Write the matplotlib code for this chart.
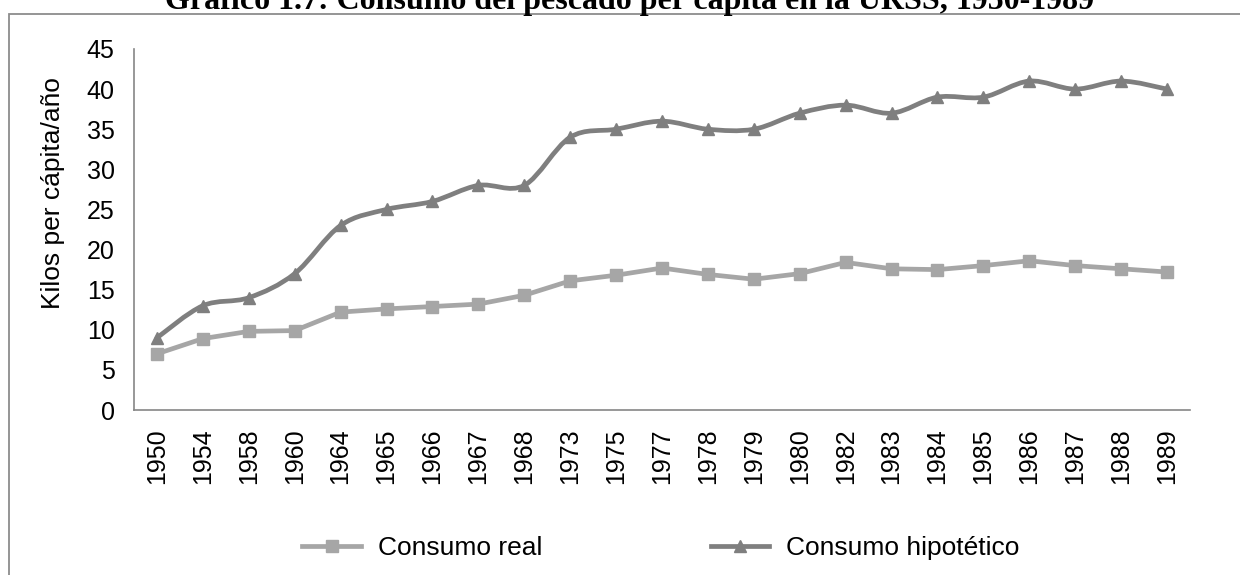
import matplotlib
matplotlib.use("Agg")
import matplotlib.pyplot as plt
from matplotlib.path import Path
from matplotlib.patches import PathPatch, Rectangle
from matplotlib.lines import Line2D

# Data
years = ["1950", "1954", "1958", "1960", "1964", "1965", "1966", "1967", "1968",
         "1973", "1975", "1977", "1978", "1979", "1980", "1982", "1983", "1984",
         "1985", "1986", "1987", "1988", "1989"]
consumo_real = [7.0, 8.9, 9.8, 9.9, 12.2, 12.6, 12.9, 13.2, 14.3, 16.1, 16.8, 17.7,
                16.9, 16.3, 17.0, 18.4, 17.6, 17.5, 18.0, 18.6, 18.0, 17.6, 17.2]
consumo_hipotetico = [9, 13, 14, 17, 23, 25, 26, 28, 28, 34, 35, 36, 35, 35, 37, 38,
                      37, 39, 39, 41, 40, 41, 40]

REAL_COLOUR = "#a6a6a6"
HIPO_COLOUR = "#7f7f7f"
FONT = "Liberation Sans"
W, H = 1240, 575


# Smooth curve through the points, like Excel's "smoothed line"
def smooth_path(xs, ys):
    pts = list(zip(xs, ys))
    verts = [pts[0]]
    codes = [Path.MOVETO]
    n = len(pts)
    for i in range(n - 1):
        p0 = pts[i - 1] if i > 0 else pts[i]
        p1 = pts[i]
        p2 = pts[i + 1]
        p3 = pts[i + 2] if i + 2 < n else pts[i + 1]
        c1 = (p1[0] + (p2[0] - p0[0]) / 6, p1[1] + (p2[1] - p0[1]) / 6)
        c2 = (p2[0] - (p3[0] - p1[0]) / 6, p2[1] - (p3[1] - p1[1]) / 6)
        verts += [c1, c2, p2]
        codes += [Path.CURVE4] * 3
    return Path(verts, codes)


fig = plt.figure(figsize=(W / 100, H / 100), dpi=100)
ax = fig.add_axes([134 / W, 1 - 410 / H, (1190 - 134) / W, (410 - 49) / H])

x = list(range(len(years)))

# Consumo real: straight segments with square markers
ax.plot(x, consumo_real, color=REAL_COLOUR, lw=3.4, marker="s", ms=8.5,
        solid_joinstyle="round", solid_capstyle="round", zorder=3)

# Consumo hipotético: smoothed line with triangle markers
ax.add_patch(PathPatch(smooth_path(x, consumo_hipotetico), fill=False,
                       edgecolor=HIPO_COLOUR, lw=3.4, capstyle="round", zorder=4))
ax.plot(x, consumo_hipotetico, color=HIPO_COLOUR, ls="none", marker="^", ms=9, zorder=5)

ax.set_xlim(-0.5, len(years) - 0.5)
ax.set_ylim(0, 45)
ax.set_yticks(range(0, 46, 5))
ax.set_xticks(x)
ax.set_xticklabels(years, rotation=90, fontsize=18, family=FONT)
for lbl in ax.get_yticklabels():
    lbl.set_fontsize(18)
    lbl.set_family(FONT)
ax.tick_params(axis="both", length=0)
ax.tick_params(axis="y", pad=14)
ax.tick_params(axis="x", pad=13)

for side in ["top", "right"]:
    ax.spines[side].set_visible(False)
for side in ["left", "bottom"]:
    ax.spines[side].set_color("#868686")
    ax.spines[side].set_linewidth(1.2)

ax.set_ylabel("Kilos per cápita/año", fontsize=19, family=FONT)
ax.yaxis.set_label_coords((65 - 134) / 1056, 0.6)

# Legend below the chart
handles = [
    Line2D([], [], color=REAL_COLOUR, lw=3.4, marker="s", ms=8.5),
    Line2D([], [], color=HIPO_COLOUR, lw=3.4, marker="^", ms=9),
]
fig.legend(handles, ["Consumo real", "Consumo hipotético"], ncol=2,
           loc="center", bbox_to_anchor=(661 / W, 1 - 548 / H), frameon=False,
           prop={"family": FONT, "size": 19}, handlelength=2.2,
           handletextpad=0.65, columnspacing=6.4, borderpad=0)

# Outer chart frame (cut off at the right and bottom)
fig.add_artist(Rectangle((9 / W, -0.05), 1.1, 1 - 13.5 / H + 0.05,
                         transform=fig.transFigure, fill=False,
                         edgecolor="#8c8c8c", lw=1.3))

# Title, clipped at the top like the reference
fig.text(630 / W, 1 - 8.5 / H,
         "Gráfico 1.7: Consumo del pescado per cápita en la URSS, 1950-1989",
         ha="center", va="baseline", fontsize=23, fontweight="bold",
         family="Liberation Serif")

fig.savefig("out.png", dpi=100)
